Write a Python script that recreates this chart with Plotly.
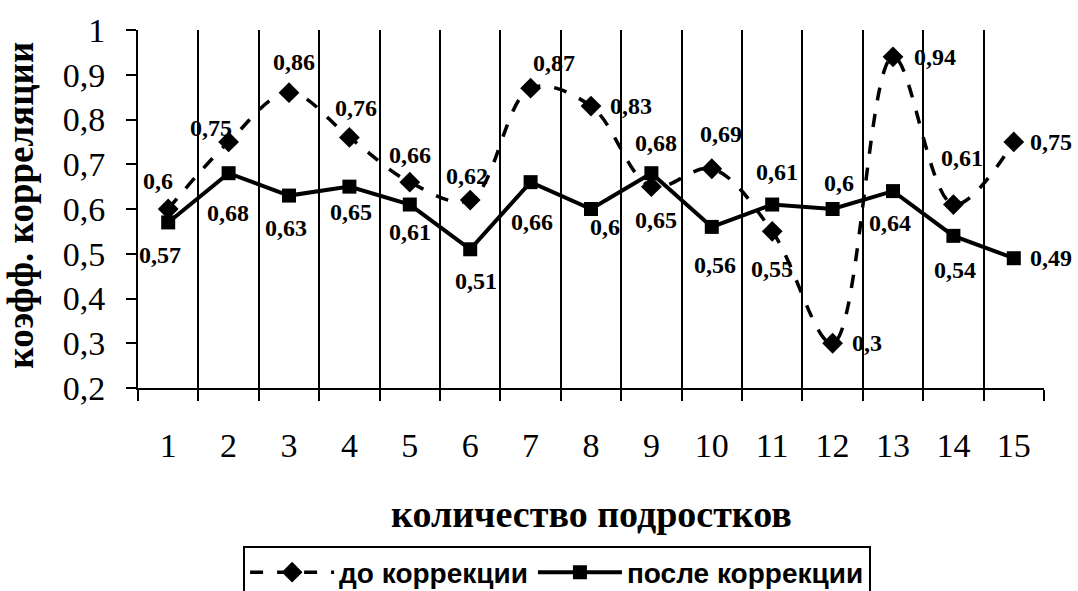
import plotly.graph_objects as go

# Number of adolescents (category axis) and correlation coefficients
categories = list(range(1, 16))
before_correction = [0.6, 0.75, 0.86, 0.76, 0.66, 0.62, 0.87, 0.83, 0.65, 0.69, 0.55, 0.3, 0.94, 0.61, 0.75]
after_correction = [0.57, 0.68, 0.63, 0.65, 0.61, 0.51, 0.66, 0.6, 0.68, 0.56, 0.61, 0.6, 0.64, 0.54, 0.49]

y_ticks = [0.2, 0.3, 0.4, 0.5, 0.6, 0.7, 0.8, 0.9, 1.0]
y_tick_text = ["0,2", "0,3", "0,4", "0,5", "0,6", "0,7", "0,8", "0,9", "1"]

series_names = ["до коррекции", "после коррекции"]

# Pixel offsets (dx right, dy down) of each value label relative to its marker
before_label_offsets = [(-10, -28), (-18, -14), (5, -31), (7, -29), (0, -27), (-3, -24),
                        (23, -25), (40, 0), (5, 33), (9, -35), (0, 38), (34, 0),
                        (42, 0), (9, -47), (37, 0)]
after_label_offsets = [(-8, 33), (-1, 40), (-3, 32), (2, 25), (0, 27), (6, 32),
                       (1, 40), (14, 18), (5, -30), (3, 38), (5, -33), (6, -26),
                       (-3, 32), (2, 34), (37, 0)]

SERIF = "Liberation Serif"
SANS = "Liberation Sans"


def fmt(v):
    return f"{v:g}".replace(".", ",")


fig = go.Figure()

fig.add_trace(go.Scatter(
    x=categories, y=before_correction, name=series_names[0],
    mode="lines+markers",
    line=dict(color="black", width=3.5, dash="13px,14px", shape="spline", smoothing=1),
    marker=dict(symbol="diamond", size=16, color="black"),
))
fig.add_trace(go.Scatter(
    x=categories, y=after_correction, name=series_names[1],
    mode="lines+markers",
    line=dict(color="black", width=4),
    marker=dict(symbol="square", size=14, color="black"),
))

annotations = []
for xs, ys, offs in ((categories, before_correction, before_label_offsets),
                     (categories, after_correction, after_label_offsets)):
    for x, y, (dx, dy) in zip(xs, ys, offs):
        annotations.append(dict(
            x=x, y=y, xref="x", yref="y", text=fmt(y), showarrow=False,
            xshift=dx, yshift=-dy,
            font=dict(family=SERIF, size=24, color="black", weight="bold"),
        ))

# Axis titles
annotations.append(dict(
    text="количество подростков", x=0.5, y=-0.352, xref="paper", yref="paper",
    xanchor="center", yanchor="middle", showarrow=False,
    font=dict(family=SERIF, size=38, color="black", weight="bold"),
))
annotations.append(dict(
    text="коэфф. корреляции", x=-0.13, y=0.51, xref="paper", yref="paper",
    xanchor="center", yanchor="middle", showarrow=False, textangle=-90,
    font=dict(family=SERIF, size=37, color="black", weight="bold"),
))

fig.update_layout(
    width=1078, height=591,
    margin=dict(l=138, r=34, t=30, b=203, autoexpand=False),
    paper_bgcolor="white", plot_bgcolor="white",
    showlegend=True,
    legend=dict(
        orientation="h", x=0.116, y=-0.44, xanchor="left", yanchor="top",
        bordercolor="black", borderwidth=2, bgcolor="white",
        font=dict(family=SANS, size=28, color="black", weight="bold"),
        itemwidth=84, tracegroupgap=0,
    ),
    annotations=annotations,
)

fig.update_xaxes(
    range=[0.5, 15.5], tickmode="array", tickvals=categories,
    ticktext=[str(c) for c in categories],
    ticks="", showgrid=False, zeroline=False,
    showline=True, linecolor="black", linewidth=2,
    tickfont=dict(family=SERIF, size=34, color="black"),
    ticklabelstandoff=26,
    minor=dict(tick0=0.5, dtick=1, ticks="outside", ticklen=11, tickwidth=2,
               tickcolor="black", showgrid=True, gridcolor="black", gridwidth=2),
)
fig.update_yaxes(
    range=[0.2, 1.0], tickmode="array", tickvals=y_ticks, ticktext=y_tick_text,
    ticks="outside", ticklen=10, tickwidth=2, tickcolor="black",
    showgrid=False, zeroline=False,
    showline=True, linecolor="black", linewidth=2,
    tickfont=dict(family=SERIF, size=34, color="black"),
    ticklabelstandoff=14,
)

fig.write_html("out.html")
